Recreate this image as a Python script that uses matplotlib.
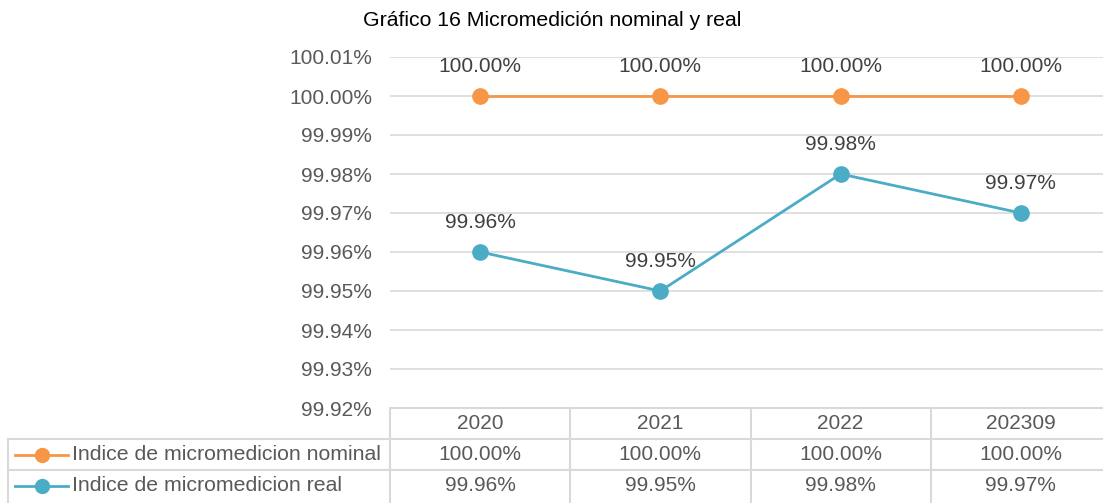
import numpy as np
import matplotlib.pyplot as plt
from matplotlib.transforms import blended_transform_factory

plt.rcParams['font.family'] = ['Liberation Sans', 'DejaVu Sans']

years = ['2020', '2021', '2022', '202309']
nominal = [100.00, 100.00, 100.00, 100.00]
real = [99.96, 99.95, 99.98, 99.97]
series_names = ['Indice de micromedicion nominal', 'Indice de micromedicion real']
title = 'Gráfico 16 Micromedición nominal y real'

orange = '#F79646'
blue = '#4BACC6'
grid_c = '#D9D9D9'
text_c = '#595959'

W, H = 1103, 503
fig = plt.figure(figsize=(W / 100, H / 100), dpi=100)

# plot area in pixels
left, right, top, bottom = 390, 1111, 57, 408
ax = fig.add_axes([left / W, 1 - bottom / H, (right - left) / W, (bottom - top) / H])
ax.set_xlim(-0.5, len(years) - 0.5)
ax.set_ylim(99.92, 100.01)
yt = np.linspace(99.92, 100.01, 10)
ax.set_yticks(yt)
ax.set_yticklabels([f'{v:.2f}%' for v in yt], fontsize=15, color=text_c)
ax.tick_params(axis='y', length=0, pad=13)
ax.set_xticks([])
for s in ax.spines.values():
    s.set_visible(False)
ax.grid(axis='y', color=grid_c, lw=1.2)
ax.set_axisbelow(True)

x = np.arange(len(years))
ax.plot(x, nominal, color=orange, lw=2, marker='o', ms=11, clip_on=False)
ax.plot(x, real, color=blue, lw=2, marker='o', ms=11, clip_on=False)
for xi, v in zip(x, nominal):
    ax.annotate(f'{v:.2f}%', (xi, v), xytext=(0, 21.5), textcoords='offset points',
                ha='center', va='center', fontsize=15, color='#404040')
for xi, v in zip(x, real):
    ax.annotate(f'{v:.2f}%', (xi, v), xytext=(0, 21.5), textcoords='offset points',
                ha='center', va='center', fontsize=15, color='#404040')

fig.text(0.5 * (362 + 742) / W, 1 - 20 / H, title, ha='center', va='center', fontsize=15.3, color='black')

# data table below the plot
tax = fig.add_axes([0, 0, 1, 1], facecolor='none')
tax.set_xlim(0, W)
tax.set_ylim(H, 0)
tax.axis('off')
tr = blended_transform_factory(ax.transData, tax.transData)

row_top = [408, 439, 470]
row_h = 31
table_left = 8

# horizontal borders
tax.plot([left, W], [row_top[0], row_top[0]], color=grid_c, lw=1.5)
for yy in row_top[1:]:
    tax.plot([table_left, W], [yy, yy], color=grid_c, lw=1.5)
# vertical borders
tax.plot([table_left, table_left], [row_top[1], H], color=grid_c, lw=1.5)
for b in np.arange(len(years) + 1) - 0.5:
    tax.plot([b, b], [row_top[0], H], color=grid_c, lw=1.5, transform=tr, clip_on=False)

for xi, yr, n, r in zip(x, years, nominal, real):
    tax.text(xi, row_top[0] + row_h / 2, yr, transform=tr, ha='center', va='center', fontsize=15, color=text_c)
    tax.text(xi, row_top[1] + row_h / 2, f'{n:.2f}%', transform=tr, ha='center', va='center', fontsize=15, color=text_c)
    tax.text(xi, row_top[2] + row_h / 2, f'{r:.2f}%', transform=tr, ha='center', va='center', fontsize=15, color=text_c)

for yy, name, c in zip(row_top[1:], series_names, [orange, blue]):
    yc = yy + row_h / 2
    tax.plot([15, 68], [yc, yc], color=c, lw=2)
    tax.plot([41.5], [yc], marker='o', ms=10, color=c)
    tax.text(72, yc, name, ha='left', va='center', fontsize=15.3, color=text_c)

fig.savefig('out.png', dpi=100)
